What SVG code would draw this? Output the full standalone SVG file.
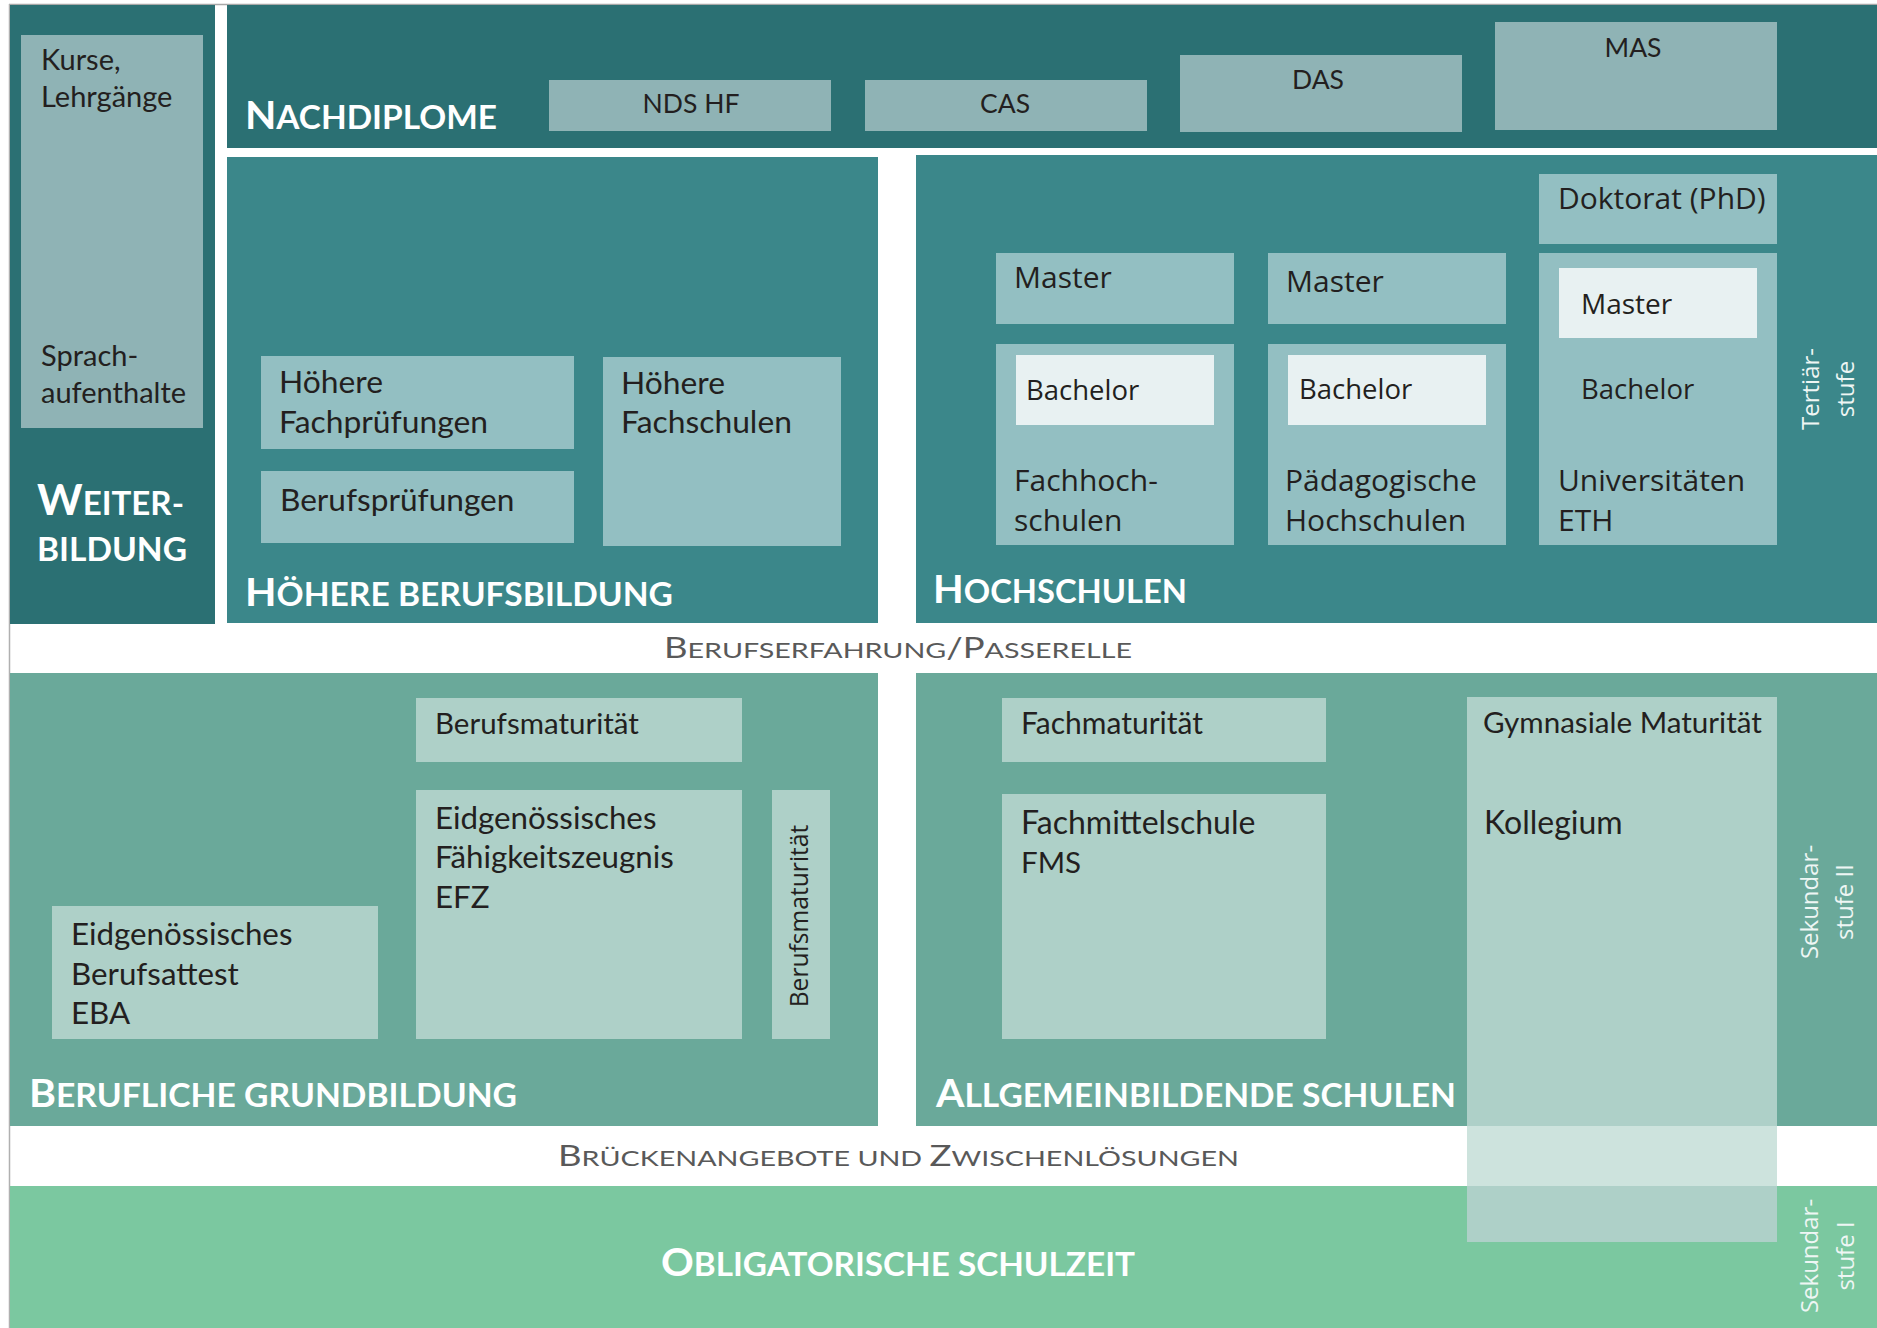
<svg xmlns="http://www.w3.org/2000/svg" width="1877" height="1328" viewBox="0 0 1877 1328">
<style>
.dk{fill:#2b7073}
.md{fill:#3b878a}
.bx1{fill:#8fb3b5}
.bx2{fill:#93bfc2}
.inr{fill:#e8f1f2}
.gr{fill:#6aa99a}
.bx3{fill:#aed0c8}
.ob{fill:#7bc8a0}
.c{font-family:Lato,"Liberation Sans",sans-serif;font-size:30px;fill:#231f20}
.s{font-family:"Open Sans","Liberation Sans",sans-serif;font-size:30px;fill:#231f20}
.h{font-family:Lato,"Liberation Sans",sans-serif;font-weight:bold;fill:#ffffff;font-size:32px}
.h .b{font-size:39px}
.g{font-family:Lato,"Liberation Sans",sans-serif;fill:#595959;font-size:22px}
.g .b{font-size:28px}
.v{font-family:"Open Sans","Liberation Sans",sans-serif;font-size:24px;fill:#eef6f4;text-anchor:middle}
.m{text-anchor:middle}
</style>
<rect x="0" y="0" width="1877" height="1328" fill="#ffffff"/>
<line x1="9" y1="4.5" x2="1877" y2="4.5" stroke="#a8a8a8" stroke-width="1.5"/>
<line x1="9.5" y1="4" x2="9.5" y2="1328" stroke="#b0b0b0" stroke-width="1.5"/>

<g id="weiterbildung">
<rect class="dk" x="10" y="5" width="205" height="619"/>
<rect class="bx1" x="21" y="35" width="182" height="393"/>
<text class="c" x="41" y="70" style="font-size:29px">Kurse,</text>
<text class="c" x="41" y="107" style="font-size:29px">Lehrgänge</text>
<text class="c" x="41" y="366" style="font-size:29px">Sprach-</text>
<text class="c" x="41" y="403" style="font-size:29px">aufenthalte</text>
<text class="h" x="37" y="515" textLength="147" lengthAdjust="spacingAndGlyphs"><tspan style="font-size:42px">W</tspan>EITER-</text>
<text class="h" x="37" y="561" textLength="150" lengthAdjust="spacingAndGlyphs">BILDUNG</text>
</g>

<g id="nachdiplome">
<rect class="dk" x="227" y="5" width="1650" height="143"/>
<text class="h" x="245" y="129" textLength="252" lengthAdjust="spacingAndGlyphs"><tspan class="b">N</tspan>ACHDIPLOME</text>
<g id="nds-hf"><rect class="bx1" x="549" y="80" width="282" height="51"/><text class="c m" x="691" y="113" style="font-size:26.5px">NDS HF</text></g>
<g id="cas"><rect class="bx1" x="865" y="80" width="282" height="51"/><text class="c m" x="1005" y="113" style="font-size:26.5px">CAS</text></g>
<g id="das"><rect class="bx1" x="1180" y="55" width="282" height="77"/><text class="c m" x="1318" y="89" style="font-size:26.5px">DAS</text></g>
<g id="mas"><rect class="bx1" x="1495" y="22" width="282" height="108"/><text class="c m" x="1633" y="57" style="font-size:26.5px">MAS</text></g>
</g>

<g id="hoehere-berufsbildung">
<rect class="md" x="227" y="157" width="651" height="466"/>
<g id="hoehere-fachpruefungen"><rect class="bx2" x="261" y="356" width="313" height="93"/>
<text class="c" x="279" y="393" style="font-size:31.8px">Höhere</text><text class="c" x="279" y="433" style="font-size:31.8px">Fachprüfungen</text></g>
<g id="berufspruefungen"><rect class="bx2" x="261" y="471" width="313" height="72"/>
<text class="c" x="280" y="511" style="font-size:31.6px">Berufsprüfungen</text></g>
<g id="hoehere-fachschulen"><rect class="bx2" x="603" y="357" width="238" height="189"/>
<text class="c" x="621" y="394" style="font-size:31.8px">Höhere</text><text class="c" x="621" y="433" style="font-size:31.8px">Fachschulen</text></g>
<text class="h" x="245" y="606" textLength="428" lengthAdjust="spacingAndGlyphs"><tspan class="b">H</tspan>ÖHERE BERUFSBILDUNG</text>
</g>

<g id="hochschulen">
<rect class="md" x="916" y="155" width="961" height="468"/>
<g id="fh-master"><rect class="bx2" x="996" y="253" width="238" height="71"/><text class="s" x="1014" y="288">Master</text></g>
<g id="ph-master"><rect class="bx2" x="1268" y="253" width="238" height="71"/><text class="s" x="1286" y="292">Master</text></g>
<g id="doktorat"><rect class="bx2" x="1539" y="174" width="238" height="70"/><text class="s" x="1558" y="209">Doktorat (PhD)</text></g>
<g id="fachhochschulen"><rect class="bx2" x="996" y="344" width="238" height="201"/>
<rect class="inr" x="1016" y="355" width="198" height="70"/>
<text class="s" x="1026" y="400" style="font-size:27.5px">Bachelor</text>
<text class="s" x="1014" y="491">Fachhoch-</text><text class="s" x="1014" y="531">schulen</text></g>
<g id="paedagogische-hochschulen"><rect class="bx2" x="1268" y="344" width="238" height="201"/>
<rect class="inr" x="1288" y="355" width="198" height="70"/>
<text class="s" x="1299" y="399" style="font-size:27.5px">Bachelor</text>
<text class="s" x="1285" y="491">Pädagogische</text><text class="s" x="1285" y="531">Hochschulen</text></g>
<g id="universitaeten"><rect class="bx2" x="1539" y="253" width="238" height="292"/>
<rect class="inr" x="1559" y="268" width="198" height="70"/>
<text class="s" x="1581" y="314" style="font-size:28px">Master</text>
<text class="s" x="1581" y="399" style="font-size:27.5px">Bachelor</text>
<text class="s" x="1558" y="491">Universitäten</text><text class="s" x="1558" y="531">ETH</text></g>
<text class="h" x="933" y="603" textLength="254" lengthAdjust="spacingAndGlyphs"><tspan class="b">H</tspan>OCHSCHULEN</text>
<text class="v" transform="translate(1819,389) rotate(-90)">Tertiär-</text>
<text class="v" transform="translate(1854,389) rotate(-90)">stufe</text>
</g>

<g id="berufserfahrung">
<text class="g" x="664" y="658" textLength="468" lengthAdjust="spacingAndGlyphs"><tspan class="b">B</tspan>ERUFSERFAHRUNG<tspan class="b">/P</tspan>ASSERELLE</text>
</g>

<g id="berufliche-grundbildung">
<rect class="gr" x="10" y="673" width="868" height="453"/>
<g id="berufsmaturitaet"><rect class="bx3" x="416" y="698" width="326" height="64"/><text class="c" x="435" y="734" style="font-size:29.5px">Berufsmaturität</text></g>
<g id="efz"><rect class="bx3" x="416" y="790" width="326" height="249"/>
<text class="c" x="435" y="829" style="font-size:31.3px">Eidgenössisches</text>
<text class="c" x="435" y="868" style="font-size:31.3px">Fähigkeitszeugnis</text>
<text class="c" x="435" y="908" style="font-size:31.3px">EFZ</text></g>
<g id="berufsmaturitaet-vertikal"><rect class="bx3" x="772" y="790" width="58" height="249"/>
<text class="s m" style="font-size:24.6px" transform="translate(808,916) rotate(-90)">Berufsmaturität</text></g>
<g id="eba"><rect class="bx3" x="52" y="906" width="326" height="133"/>
<text class="c" x="71" y="945" style="font-size:31.3px">Eidgenössisches</text>
<text class="c" x="71" y="985" style="font-size:31.3px">Berufsattest</text>
<text class="c" x="71" y="1024" style="font-size:31.3px">EBA</text></g>
<text class="h" x="29" y="1107" textLength="488" lengthAdjust="spacingAndGlyphs"><tspan class="b">B</tspan>ERUFLICHE GRUNDBILDUNG</text>
</g>

<g id="allgemeinbildende-schulen">
<rect class="gr" x="916" y="673" width="961" height="453"/>
<g id="fachmaturitaet"><rect class="bx3" x="1002" y="698" width="324" height="64"/><text class="c" x="1021" y="734" style="font-size:30px">Fachmaturität</text></g>
<g id="fms"><rect class="bx3" x="1002" y="794" width="324" height="245"/>
<text class="c" x="1021" y="834" style="font-size:32px">Fachmittelschule</text>
<text class="c" x="1021" y="873" style="font-size:29.5px">FMS</text></g>
<text class="h" x="936" y="1107" textLength="520" lengthAdjust="spacingAndGlyphs"><tspan class="b">A</tspan>LLGEMEINBILDENDE SCHULEN</text>
<text class="v" transform="translate(1818,902) rotate(-90)">Sekundar-</text>
<text class="v" transform="translate(1853,902) rotate(-90)">stufe II</text>
</g>

<g id="brueckenangebote">
<text class="g" x="558" y="1166" textLength="681" lengthAdjust="spacingAndGlyphs"><tspan class="b">B</tspan>RÜCKENANGEBOTE UND <tspan class="b">Z</tspan>WISCHENLÖSUNGEN</text>
</g>

<g id="obligatorische-schulzeit">
<rect class="ob" x="10" y="1186" width="1867" height="142"/>
<text class="h" x="661" y="1276" textLength="474" lengthAdjust="spacingAndGlyphs"><tspan class="b">O</tspan>BLIGATORISCHE SCHULZEIT</text>
<text class="v" transform="translate(1818,1256) rotate(-90)">Sekundar-</text>
<text class="v" transform="translate(1854,1256) rotate(-90)">stufe I</text>
</g>

<g id="gymnasium">
<rect class="bx3" x="1467" y="697" width="310" height="545"/>
<rect fill="#cde3dd" x="1467" y="1126" width="310" height="60"/>
<text class="c" x="1483" y="733" style="font-size:29.6px">Gymnasiale Maturität</text>
<text class="c" x="1484" y="834" style="font-size:32px">Kollegium</text>
</g>

<g id="connectors"></g>
</svg>
